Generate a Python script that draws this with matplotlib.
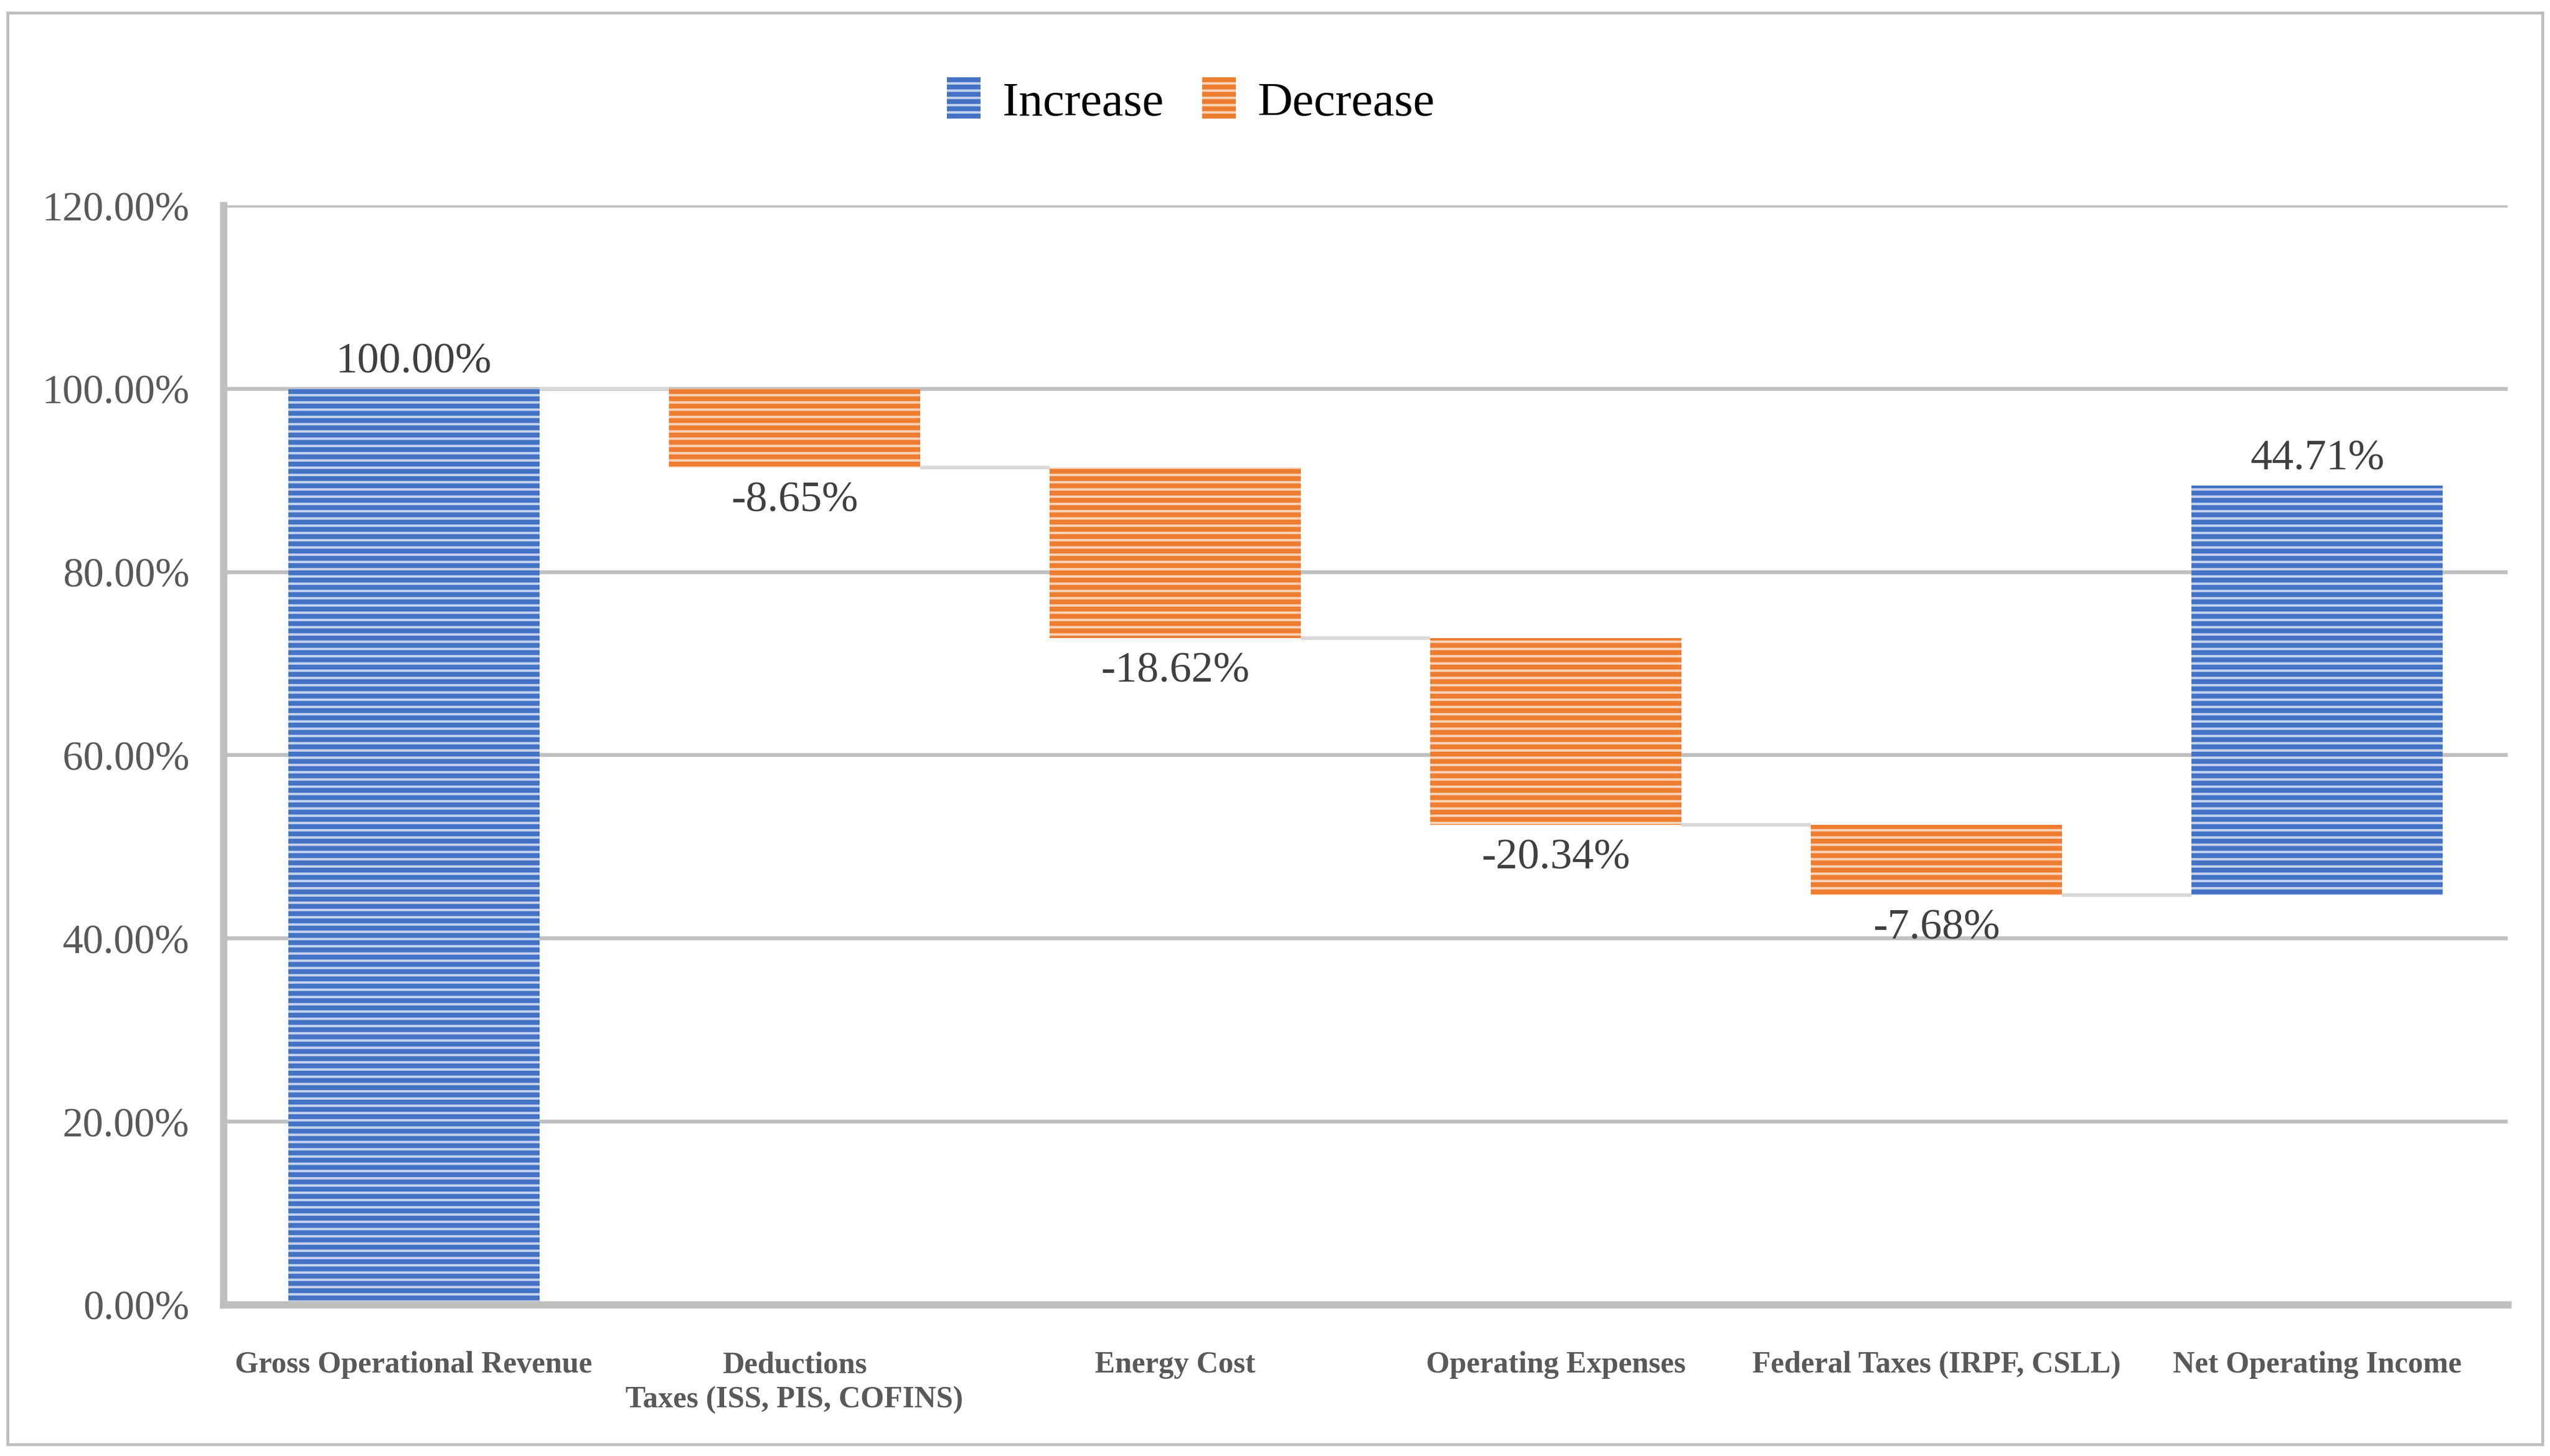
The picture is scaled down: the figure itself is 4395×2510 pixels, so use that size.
import matplotlib
matplotlib.use("Agg")
import matplotlib.pyplot as plt
from matplotlib.patches import Patch, Rectangle
import numpy as np

categories = ["Gross Operational Revenue", "Deductions\nTaxes (ISS, PIS, COFINS)", "Energy Cost",
              "Operating Expenses", "Federal Taxes (IRPF, CSLL)", "Net Operating Income"]
changes = [100.00, -8.65, -18.62, -20.34, -7.68, 44.71]
kinds = ["inc", "dec", "dec", "dec", "dec", "inc"]
value_labels = ["100.00%", "-8.65%", "-18.62%", "-20.34%", "-7.68%", "44.71%"]
yticks = [0, 20, 40, 60, 80, 100, 120]

BLUE = "#4472C4"
BLUE_H = "#c5d3ee"
ORANGE = "#ED7D31"
ORANGE_H = "#f9d3b8"

plt.rcParams["hatch.linewidth"] = 1.0
plt.rcParams["font.family"] = ["Liberation Serif", "DejaVu Serif"]

fig = plt.figure(figsize=(4395 / 300, 2511 / 300), dpi=300)
ax = fig.add_axes([0.0876, 0.104, 0.9834 - 0.0876, 0.8586 - 0.104])

x = np.arange(len(categories))
w = 0.66

# compute bars
bottoms, heights, levels = [], [], []
total = 0.0
for i, (c, k) in enumerate(zip(changes, kinds)):
    if i == 0:
        bottoms.append(0.0)
        heights.append(c)
        total = c
    elif k == "dec":
        bottoms.append(total + c)
        heights.append(-c)
        total = total + c
    else:
        bottoms.append(total)
        heights.append(c)
    levels.append(total)

for i in range(len(categories)):
    if kinds[i] == "inc":
        fc, hc = BLUE, BLUE_H
    else:
        fc, hc = ORANGE, ORANGE_H
    ax.bar(x[i], heights[i], bottom=bottoms[i], width=w, color=fc, edgecolor=hc,
           linewidth=0, hatch="----", zorder=3)

# connectors
for i in range(len(categories) - 1):
    lvl = levels[i]
    ax.plot([x[i] + w / 2, x[i + 1] - w / 2], [lvl, lvl], color="#d9d9d9", lw=1.5,
            zorder=2.5, solid_capstyle="butt")

# data labels
for i in range(len(categories)):
    if kinds[i] == "inc":
        ax.annotate(value_labels[i], (x[i], bottoms[i] + heights[i]), xytext=(0, 3),
                    textcoords="offset points", ha="center", va="bottom",
                    fontsize=18, color="#404040")
    else:
        ax.annotate(value_labels[i], (x[i], bottoms[i]), xytext=(0, -5.5),
                    textcoords="offset points", ha="center", va="top",
                    fontsize=18, color="#404040")

ax.set_xlim(-0.5, len(categories) - 0.5)
ax.set_ylim(0, 120)
ax.set_yticks(yticks)
ax.set_yticklabels([f"{v:.2f}%" for v in yticks], fontsize=17, color="#595959")
ax.set_xticks(x)
ax.set_xticklabels(categories, fontsize=12.5, fontweight="bold", color="#595959",
                   linespacing=1.35, va="top")
ax.tick_params(axis="y", length=0, pad=14)
ax.tick_params(axis="x", length=0, pad=19)

ax.grid(axis="y", color="#c0c0c0", lw=1.6, zorder=0)
ax.set_axisbelow(True)
for s in ["top", "right"]:
    ax.spines[s].set_visible(False)
for s in ["left", "bottom"]:
    ax.spines[s].set_color("#bfbfbf")
    ax.spines[s].set_linewidth(3)
    ax.spines[s].set_zorder(4)

handles = [Patch(facecolor=BLUE, edgecolor=BLUE_H, linewidth=0, hatch="----", label="Increase"),
           Patch(facecolor=ORANGE, edgecolor=ORANGE_H, linewidth=0, hatch="----", label="Decrease")]
fig.legend(handles=handles, loc="center", bbox_to_anchor=(0.467, 0.93), ncol=2,
           frameon=False, fontsize=20, handlelength=0.7, handleheight=0.95,
           handletextpad=0.45, columnspacing=0.8)

fig.patches.append(Rectangle((0.003, 0.008), 0.994, 0.983, transform=fig.transFigure,
                             fill=False, edgecolor="#bfbfbf", lw=1.2))

fig.savefig("out.png", dpi=300, facecolor="white")
